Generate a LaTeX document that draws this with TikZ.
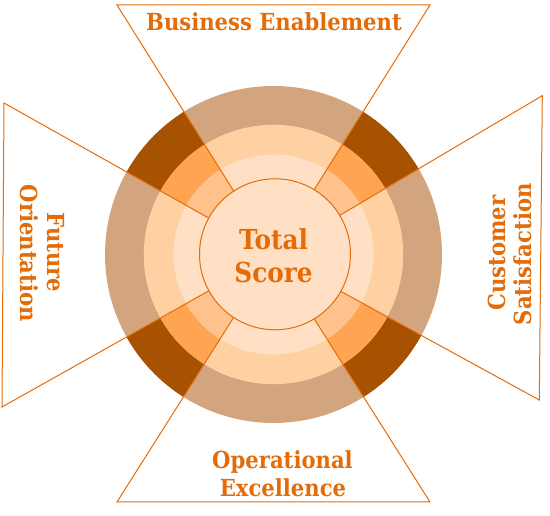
\documentclass[tikz,border=0pt]{standalone}
\usepackage{fontspec}
\setmainfont{DejaVu Serif}[FakeStretch=0.9]
\definecolor{tanC}{HTML}{D2A57E}
\definecolor{darkC}{HTML}{A65200}
\definecolor{peachC}{HTML}{FFD0A1}
\definecolor{orangeC}{HTML}{FFA552}
\definecolor{lightC}{HTML}{FFE0C5}
\definecolor{lorangeC}{HTML}{FFC28C}
\definecolor{lineC}{HTML}{E46C0A}
\definecolor{textC}{HTML}{E36C09}
\begin{document}
\begin{tikzpicture}[x=1pt,y=1pt,
  labeltext/.style={text=textC, font=\bfseries\fontsize{23.5}{28}\selectfont, inner sep=0pt, anchor=base},
  bigtext/.style={labeltext, font=\bfseries\fontsize{27.5}{32}\selectfont},
  frameline/.style={draw=lineC, line width=1pt, line join=miter},
]
\useasboundingbox (0,0) rectangle (550,516);

% hub and the corners of the four wedge frames
\coordinate (C) at (273.5,261.5);
\coordinate (TL) at (117,511);
\coordinate (TR) at (430,511);
\coordinate (LT) at (4,413);
\coordinate (LB) at (2,109);
\coordinate (BL) at (117,14);
\coordinate (BR) at (430,14);
\coordinate (RT) at (542.3,420.3);
\coordinate (RB) at (539.3,116);

% concentric rings: plain band colour, darker sectors on the diagonals
\begin{scope}[shift={(C)}]
  \foreach \r/\base/\diag in {168.5/tanC/darkC, 129.7/peachC/orangeC, 100/lightC/lorangeC} {
    \fill[\base] (0,0) circle[radius=\r];
    \foreach \a/\b in {30.6/57.9, 122.1/150.65, 209.3/237.7, 302.3/331.3} {
      \fill[\diag] (0,0) -- (\a:\r) arc[start angle=\a, end angle=\b, radius=\r] -- cycle;
    }
  }
\end{scope}

% wedge frames
\draw[frameline] (C) -- (TL) -- (TR) -- cycle;
\draw[frameline] (C) -- (LT) -- (LB) -- cycle;
\draw[frameline] (C) -- (BL) -- (BR) -- cycle;
\draw[frameline] (C) -- (RB) -- (RT) -- cycle;

% central disc
\node[circle, draw=lineC, fill=lightC, line width=1pt, minimum size=151pt, inner sep=0pt] (hub) at (275,261.7) {};

% labels
\node[bigtext] (total) at (273.5,266) {Total};
\node[bigtext] (score) at (273.5,233) {Score};
\node[labeltext] (business) at (274,485) {Business Enablement};
\node[labeltext] (operational) at (282.5,47) {Operational};
\node[labeltext] (excellence) at (283,19) {Excellence};
\node[labeltext, rotate=-90] (future) at (47.5,263.7) {Future};
\node[labeltext, rotate=-90] (orientation) at (20.5,262.7) {Orientation};
\node[labeltext, rotate=90] (customer) at (505,262.7) {Customer};
\node[labeltext, rotate=90] (satisfaction) at (531.7,261.8) {Satisfaction};
\end{tikzpicture}
\end{document}
